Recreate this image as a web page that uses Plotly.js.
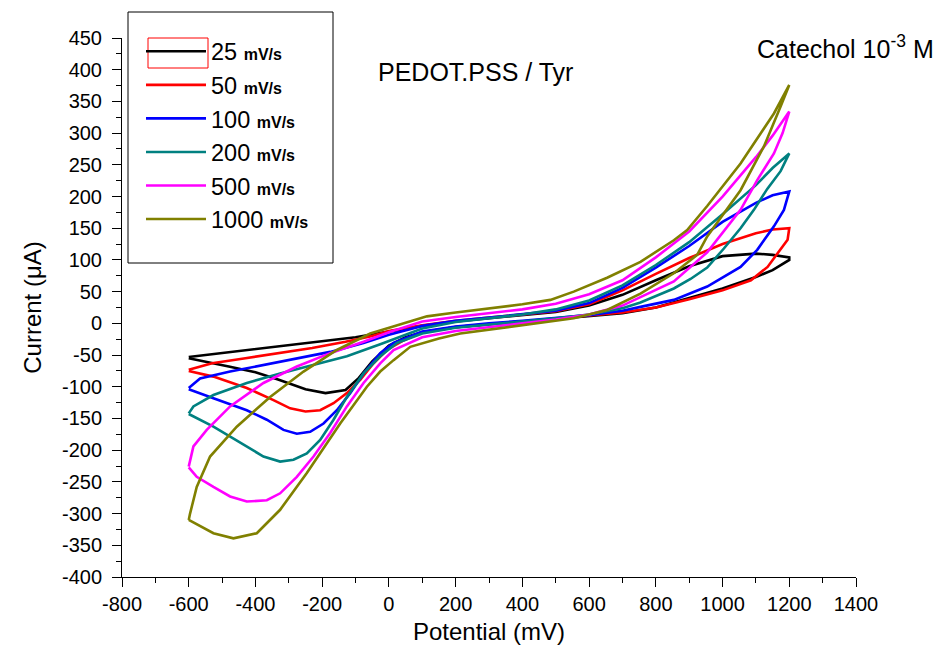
<!DOCTYPE html>
<html>
<head>
<meta charset="utf-8">
<script src="https://cdn.plot.ly/plotly-3.0.1.min.js"></script>
<style>html,body{margin:0;padding:0;background:#fff;}#chart{width:940px;height:648px;}</style>
</head>
<body>
<div id="chart"></div>
<script>
// Scan rates (legend labels)
const scanRates = ["25", "50", "100", "200", "500", "1000"];
const lineColors = ["#000000", "#FF0000", "#0000FF", "#008080", "#FF00FF", "#808000"];

// 25 mV/s : forward (upper) branch then reverse (lower) branch
const pot25 = [-600,-500,-400,-300,-200,-100,0,100,200,300,400,500,600,700,800,900,1000,1100,1150,1200,
               1200,1150,1100,1000,900,800,700,600,500,400,300,200,100,50,0,-50,-90,-130,-190,-250,-330,-400,-480,-550,-600];
const cur25 = [-53,-47,-41,-35,-29,-22,-13,-4,3,8,13,18,28,45,68,90,106,110,108,104,
               100,84,73,55,40,25,16,11,7,3,-1,-6,-14,-22,-35,-60,-86,-105,-110,-104,-89,-77,-68,-60,-55];

// 50 mV/s
const pot50 = [-600,-530,-430,-330,-230,-130,-50,0,100,200,300,400,500,600,700,800,900,1000,1100,1150,1200,
               1195,1165,1135,1085,1000,900,800,700,600,500,400,300,200,100,40,-6,-46,-86,-126,-166,-206,-250,-296,-346,-426,-526,-600];
const cur50 = [-73,-63,-55,-47,-39,-29,-20,-12,-3,4,9,14,19,30,52,78,103,125,142,148,150,
               132,110,89,68,52,38,25,17,12,7,3,-1,-6,-14,-28,-42,-63,-89,-110,-126,-137,-139,-134,-121,-102,-84,-75];

// 100 mV/s
const pot100 = [-600,-566,-476,-376,-276,-176,-76,0,100,200,300,400,500,600,700,800,900,1000,1100,1150,1200,
                1184,1154,1104,1054,954,854,754,700,600,500,400,300,200,100,14,-26,-76,-116,-156,-196,-236,-276,-316,-366,-426,-526,-600];
const cur100 = [-102,-87,-76,-66,-55,-45,-31,-18,-4,4,9,14,20,32,56,88,122,160,190,202,208,
                179,153,116,89,58,37,26,20,13,8,4,0,-5,-13,-31,-47,-79,-110,-137,-158,-171,-174,-168,-152,-137,-118,-104];

// 200 mV/s
const pot200 = [-600,-586,-526,-426,-326,-226,-126,-26,50,100,200,300,400,500,600,700,800,900,1000,1100,1150,1200,
                1174,1134,1094,1054,1004,954,904,854,754,700,600,500,400,300,200,100,24,-26,-76,-126,-166,-206,-246,-286,-326,-376,-426,-476,-526,-600];
const cur200 = [-142,-131,-113,-94,-79,-66,-52,-33,-18,-8,2,8,14,22,36,60,92,128,172,218,245,268,
                240,212,179,150,118,88,70,55,33,24,14,8,3,-2,-7,-16,-31,-52,-79,-116,-152,-184,-205,-215,-218,-210,-194,-179,-163,-143];

// 500 mV/s
const pot500 = [-600,-586,-546,-476,-376,-276,-176,-76,0,100,200,300,400,500,600,700,754,800,900,1000,1100,1150,1200,
                1180,1154,1104,1054,954,854,754,700,600,500,400,300,200,100,14,-26,-76,-126,-176,-226,-276,-326,-366,-426,-476,-526,-576,-600];
const cur500 = [-226,-194,-168,-131,-94,-68,-47,-29,-14,3,10,16,22,31,46,68,87,104,145,200,262,296,334,
                300,268,226,179,112,66,42,28,14,6,0,-6,-12,-22,-42,-63,-94,-131,-173,-210,-242,-268,-279,-281,-273,-258,-242,-227];

// 1000 mV/s
const pot1000 = [-600,-596,-576,-536,-456,-356,-256,-156,-56,44,114,200,314,400,484,554,654,754,854,894,954,1054,1154,1200,
                 1174,1124,1054,954,924,854,754,654,554,484,400,300,214,150,64,14,-26,-66,-146,-246,-326,-396,-466,-526,-600];
const cur1000 = [-310,-300,-258,-210,-163,-116,-76,-42,-16,0,11,17,24,30,37,50,72,97,131,147,185,252,331,376,
                 342,279,210,137,108,79,47,21,8,3,-3,-10,-16,-24,-37,-58,-76,-100,-158,-236,-294,-331,-339,-331,-310];

const potentials = [pot25, pot50, pot100, pot200, pot500, pot1000];
const currents = [cur25, cur50, cur100, cur200, cur500, cur1000];

const xTickVals = [-800,-600,-400,-200,0,200,400,600,800,1000,1200,1400];
const yTickVals = [-400,-350,-300,-250,-200,-150,-100,-50,0,50,100,150,200,250,300,350,400,450];

const FONT = "Arial, 'Liberation Sans', sans-serif";

const traces = scanRates.map((r, i) => ({
  x: potentials[i],
  y: currents[i],
  type: "scatter",
  mode: "lines",
  name: r + " <span style='font-size:16px;font-weight:bold'>mV/s</span>",
  legendgroup: "g" + i,
  line: {color: lineColors[i], width: 2.6},
  hoverinfo: "x+y"
}));

// paper coordinate helpers based on plot area (px)
const L = 122, R = 856, T = 38, B = 577;
const px = v => (v - L) / (R - L);
const py = v => (B - v) / (B - T);

const layout = {
  width: 940, height: 648,
  margin: {l: L, r: 940 - R, t: T, b: 648 - B, pad: 0},
  paper_bgcolor: "#fff", plot_bgcolor: "#fff",
  font: {family: FONT, color: "#000"},
  showlegend: true,
  legend: {
    x: px(141), y: py(29.5), xanchor: "left", yanchor: "top",
    bgcolor: "rgba(0,0,0,0)", borderwidth: 0,
    font: {family: FONT, size: 23.5, color: "#000"},
    tracegroupgap: 0, itemwidth: 60
  },
  xaxis: {
    range: [-800, 1400], tickvals: xTickVals, ticktext: xTickVals.map(String),
    showline: true, linecolor: "#000", linewidth: 1,
    ticks: "outside", ticklen: 9, tickwidth: 1, tickcolor: "#000",
    minor: {dtick: 100, ticks: "outside", ticklen: 5, tickcolor: "#000"},
    showgrid: false, zeroline: false,
    tickfont: {family: FONT, size: 20},
    title: {text: "Potential (mV)", font: {family: FONT, size: 24}, standoff: 9}
  },
  yaxis: {
    range: [-400, 450], tickvals: yTickVals, ticktext: yTickVals.map(String),
    showline: true, linecolor: "#000", linewidth: 1,
    ticks: "outside", ticklen: 9, tickwidth: 1, tickcolor: "#000",
    minor: {dtick: 25, ticks: "outside", ticklen: 5, tickcolor: "#000"},
    showgrid: false, zeroline: false, ticklabelstandoff: 6,
    tickfont: {family: FONT, size: 20},
    title: {text: "Current (μA)", font: {family: FONT, size: 24}, standoff: 13}
  },
  shapes: [
    {type: "rect", xref: "paper", yref: "paper", x0: px(128), x1: px(333), y0: py(263), y1: py(12),
     line: {color: "#000", width: 1}, fillcolor: "rgba(0,0,0,0)"},
    {type: "rect", xref: "paper", yref: "paper", x0: px(148), x1: px(208), y0: py(68), y1: py(38),
     line: {color: "#FF0000", width: 1}, fillcolor: "rgba(0,0,0,0)"}
  ],
  annotations: [
    {text: "PEDOT.PSS / Tyr", xref: "paper", yref: "paper", x: px(475), y: py(72),
     xanchor: "center", yanchor: "middle", showarrow: false, font: {family: FONT, size: 25}},
    {text: "Catechol 10<sup>-3</sup> M", xref: "paper", yref: "paper", x: px(845), y: py(47),
     xanchor: "center", yanchor: "middle", showarrow: false, font: {family: FONT, size: 25}}
  ]
};

Plotly.newPlot("chart", traces, layout, {displayModeBar: false, staticPlot: true});
</script>
</body>
</html>
